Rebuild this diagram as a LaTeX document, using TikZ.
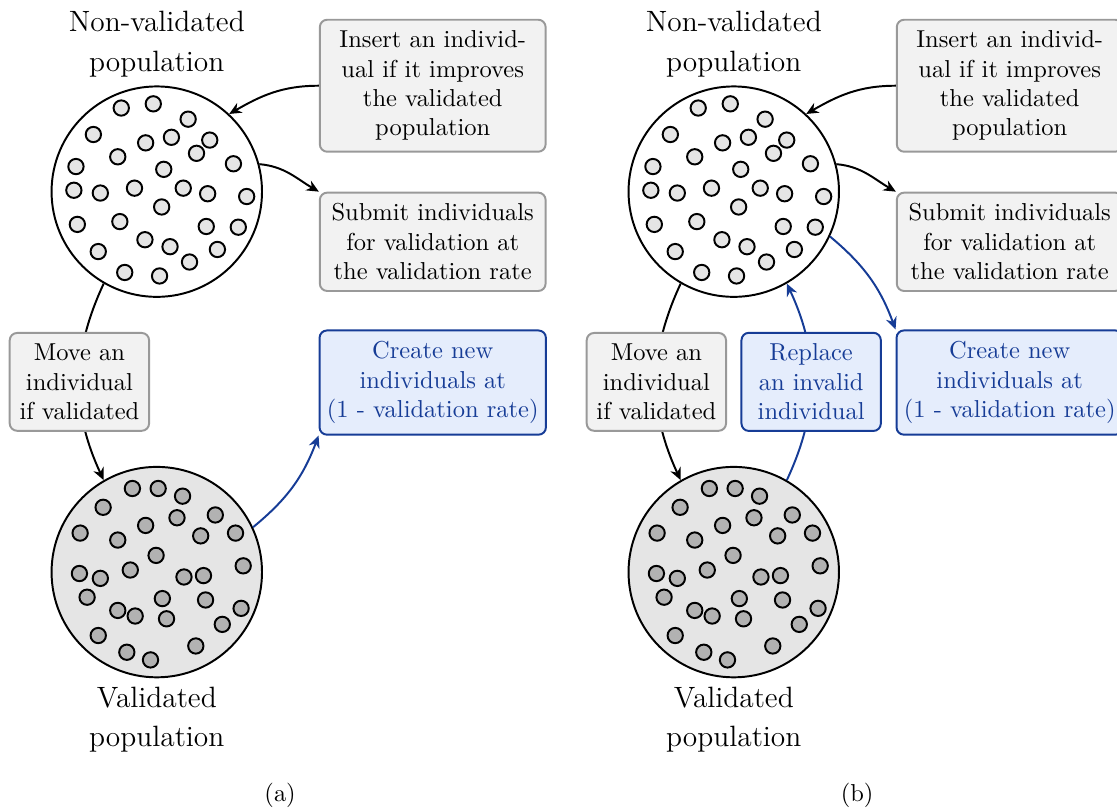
\documentclass[tikz,border=0pt]{standalone}
\usepackage{xcolor}
\usepackage{tikz}
\usetikzlibrary{positioning, arrows.meta}

\definecolor{valblue}{RGB}{22,60,150}
\definecolor{valbluefill}{RGB}{229,237,252}

% individuals, relative to the centre of their population
\newcommand{\nvdots}{-0.51/1.20, -0.05/1.26, 0.45/1.04, -0.91/0.82, 0.21/0.78, 0.76/0.74, -0.16/0.70, 0.57/0.55, -0.56/0.50, -1.16/0.36, 1.10/0.40, 0.10/0.32, -1.19/0.02, -0.81/-0.02, -0.32/0.05, 0.38/0.05, 0.73/-0.03, 1.29/-0.07, 0.07/-0.22, -1.14/-0.47, -0.53/-0.43, 0.71/-0.50, 1.17/-0.51, -0.17/-0.69, 0.19/-0.79, 0.87/-0.83, -0.84/-0.86, 0.47/-1.01, -0.46/-1.16, 0.04/-1.21}
\newcommand{\valdots}{-0.35/1.20, 0.02/1.20, 0.37/1.09, -0.77/0.93, 0.29/0.78, 0.84/0.82, -0.16/0.67, -1.10/0.56, -0.56/0.46, 0.63/0.52, 1.13/0.56, -0.01/0.24, -1.11/-0.02, -0.81/-0.09, -0.38/0.03, 0.39/-0.07, 0.67/-0.05, 1.24/0.09, -1.00/-0.36, 0.08/-0.38, 0.70/-0.40, 1.21/-0.52, -0.56/-0.55, -0.31/-0.63, 0.14/-0.67, 0.94/-0.75, -0.84/-0.91, 0.56/-1.06, -0.43/-1.15, -0.09/-1.26}

\tikzset{
  pop/.style={circle, draw, thick, minimum size=3.02cm, inner sep=0pt},
  indiv/.style={draw, thick},
  poplabel/.style={font={\fontsize{12}{16}\selectfont}, align=center},
  box/.style={draw=black!40, fill=black!5, thick, rounded corners=3pt, align=center, inner xsep=3pt, inner ysep=4.5pt, minimum width=2cm},
  bigbox/.style={box, minimum width=3.24cm},
  bluebox/.style={draw=valblue, fill=valbluefill, text=valblue},
  flow/.style={-{Stealth[length=5pt, width=4.5pt]}, thick},
}

\begin{document}
\begin{tikzpicture}
\useasboundingbox (0,0) rectangle (16.03,-11.65);
% (a): without replacement
\begin{scope}
\node[pop, fill=white] (nv1) at (2.25,-2.75) {};
\node[pop, fill=black!10] (val1) at (2.25,-8.21) {};
\foreach \x/\y in \nvdots \draw[indiv, fill=black!10] ([shift={(\x,\y)}]nv1.center) circle (0.11);
\foreach \x/\y in \valdots \draw[indiv, fill=black!30] ([shift={(\x,\y)}]val1.center) circle (0.11);
\node[poplabel, above=0pt of nv1] (nvlab1) {Non-validated\\population};
\node[poplabel, below=0pt of val1] (vallab1) {Validated\\population};
\node[bigbox] (ins1) at (6.21,-1.23) {Insert an individ-\\ual if it improves\\the validated\\population};
\node[bigbox] (sub1) at (6.21,-3.47) {Submit individuals\\for validation at\\the validation rate};
\node[bigbox, bluebox] (new1) at (6.21,-5.49) {Create new\\individuals at\\(1 - validation rate)};
\draw[flow] (ins1.west) to[out=180, in=30] (nv1.47);
\draw[flow] (nv1.15) to[out=-5, in=150] (sub1.north west);
\draw[flow] (nv1.240) to[bend right=25] node[box] (move1) {Move an\\individual\\if validated} (val1.120);
\draw[flow, valblue] (val1.25) to[bend right=15] (new1.south west);
\node (cap1) at (4.02,-11.41) {(a)};
\end{scope}
% (b): with replacement
\begin{scope}[xshift=8.28cm]
\node[pop, fill=white] (nv2) at (2.25,-2.75) {};
\node[pop, fill=black!10] (val2) at (2.25,-8.21) {};
\foreach \x/\y in \nvdots \draw[indiv, fill=black!10] ([shift={(\x,\y)}]nv2.center) circle (0.11);
\foreach \x/\y in \valdots \draw[indiv, fill=black!30] ([shift={(\x,\y)}]val2.center) circle (0.11);
\node[poplabel, above=0pt of nv2] (nvlab2) {Non-validated\\population};
\node[poplabel, below=0pt of val2] (vallab2) {Validated\\population};
\node[bigbox] (ins2) at (6.21,-1.23) {Insert an individ-\\ual if it improves\\the validated\\population};
\node[bigbox] (sub2) at (6.21,-3.47) {Submit individuals\\for validation at\\the validation rate};
\node[bigbox, bluebox] (new2) at (6.21,-5.49) {Create new\\individuals at\\(1 - validation rate)};
\draw[flow] (ins2.west) to[out=180, in=30] (nv2.47);
\draw[flow] (nv2.15) to[out=-5, in=150] (sub2.north west);
\draw[flow] (nv2.240) to[bend right=25] node[box] (move2) {Move an\\individual\\if validated} (val2.120);
\draw[flow, valblue] (val2.60) to[bend right=25] node[box, bluebox] (rep2) {Replace\\an invalid\\individual} (nv2.-60);
\draw[flow, valblue] (nv2.-25) to[bend left=15] (new2.north west);
\node (cap2) at (4.02,-11.41) {(b)};
\end{scope}
\end{tikzpicture}
\end{document}
